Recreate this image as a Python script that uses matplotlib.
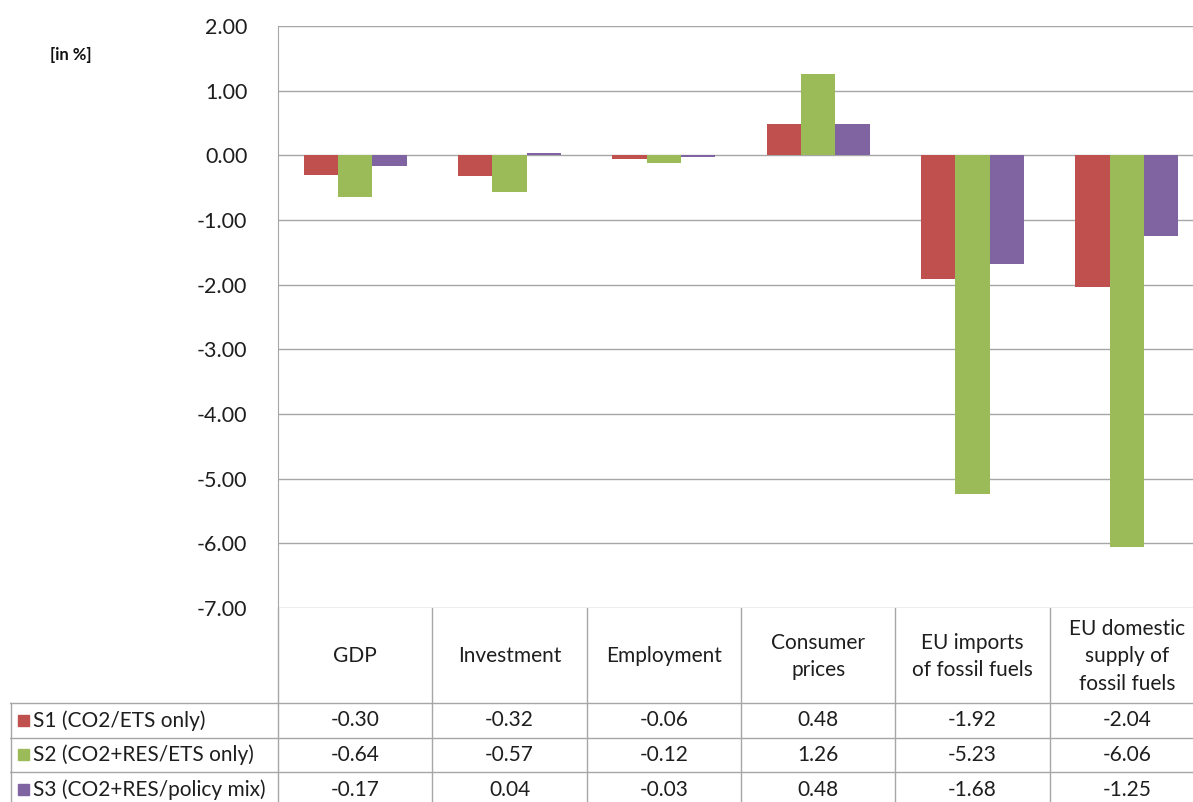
import matplotlib.pyplot as plt
import numpy as np
from matplotlib.patches import Rectangle

categories = ["GDP", "Investment", "Employment", "Consumer\nprices",
              "EU imports\nof fossil fuels", "EU domestic\nsupply of\nfossil fuels"]
series_names = ["S1 (CO2/ETS only)", "S2 (CO2+RES/ETS only)", "S3 (CO2+RES/policy mix)"]
s1 = [-0.30, -0.32, -0.06, 0.48, -1.92, -2.04]
s2 = [-0.64, -0.57, -0.12, 1.26, -5.23, -6.06]
s3 = [-0.17, 0.04, -0.03, 0.48, -1.68, -1.25]
y_ticks = [2, 1, 0, -1, -2, -3, -4, -5, -6, -7]
colors = ["#C0504D", "#9BBB59", "#8064A2"]

plt.rcParams['font.family'] = ['Lato', 'DejaVu Sans']
W, H = 1193, 802
fig = plt.figure(figsize=(W / 100, H / 100), dpi=100)

# plot area in pixels (left, top, right, bottom)
px_l, px_t, px_r, px_b = 278, 26, 1204, 608
col_w = (px_r - px_l) / len(categories)
grid_c = "#A6A6A6"
txt_c = "#1E1E1E"
fs = 15

ax = fig.add_axes([px_l / W, 1 - px_b / H, (px_r - px_l) / W, (px_b - px_t) / H])
x = np.arange(len(categories))
bw = 1 / 4.5  # 150% gap between groups
for k, vals in enumerate([s1, s2, s3]):
    ax.bar(x + (k - 1) * bw, vals, width=bw, color=colors[k], zorder=3)
ax.set_xlim(-0.5, len(categories) - 0.5)
ax.set_ylim(-7, 2)
ax.set_yticks(y_ticks)
ax.set_yticklabels([f"{v:.2f}" for v in y_ticks], fontsize=15.5, color=txt_c)
ax.tick_params(axis='y', length=0, pad=22)
ax.set_xticks([])
ax.grid(axis='y', color=grid_c, linewidth=1.0, zorder=0)
for s in ["top", "right", "bottom"]:
    ax.spines[s].set_visible(False)
ax.spines["left"].set_color(grid_c)

fig.text(50 / W, 1 - 55 / H, "[in %]", fontsize=12, fontweight='bold',
         va='center', ha='left', color="#111111")

# data table below the plot area, in pixel-like units
tb_bot = 812
tax = fig.add_axes([10 / W, 1 - tb_bot / H, (px_r - 10) / W, (tb_bot - px_b) / H])
tax.set_xlim(10, px_r)
tax.set_ylim(tb_bot, px_b)
tax.axis('off')

row_tops = [703, 738, 772, 807]
lw = 1.0
# vertical column lines
for i in range(len(categories) + 1):
    xc = px_l + i * col_w
    tax.plot([xc, xc], [px_b, tb_bot], color=grid_c, lw=lw)
tax.plot([10.5, 10.5], [row_tops[0], tb_bot], color=grid_c, lw=lw)
for yr in row_tops:
    tax.plot([10, px_r], [yr, yr], color=grid_c, lw=lw)

for i, name in enumerate(categories):
    xc = px_l + (i + 0.5) * col_w
    tax.text(xc, (px_b + row_tops[0]) / 2 + 1, name, ha='center', va='center',
             fontsize=fs, color=txt_c, linespacing=1.45)

for k, (name, vals) in enumerate(zip(series_names, [s1, s2, s3])):
    yc = (row_tops[k] + row_tops[k + 1]) / 2
    tax.add_patch(Rectangle((18, yc - 6), 11, 11, color=colors[k]))
    tax.text(33, yc, name, ha='left', va='center', fontsize=fs, color=txt_c)
    for i, v in enumerate(vals):
        xc = px_l + (i + 0.5) * col_w
        tax.text(xc, yc, f"{v:.2f}", ha='center', va='center', fontsize=fs,
                 color=txt_c)

fig.savefig("out.png", dpi=100)
